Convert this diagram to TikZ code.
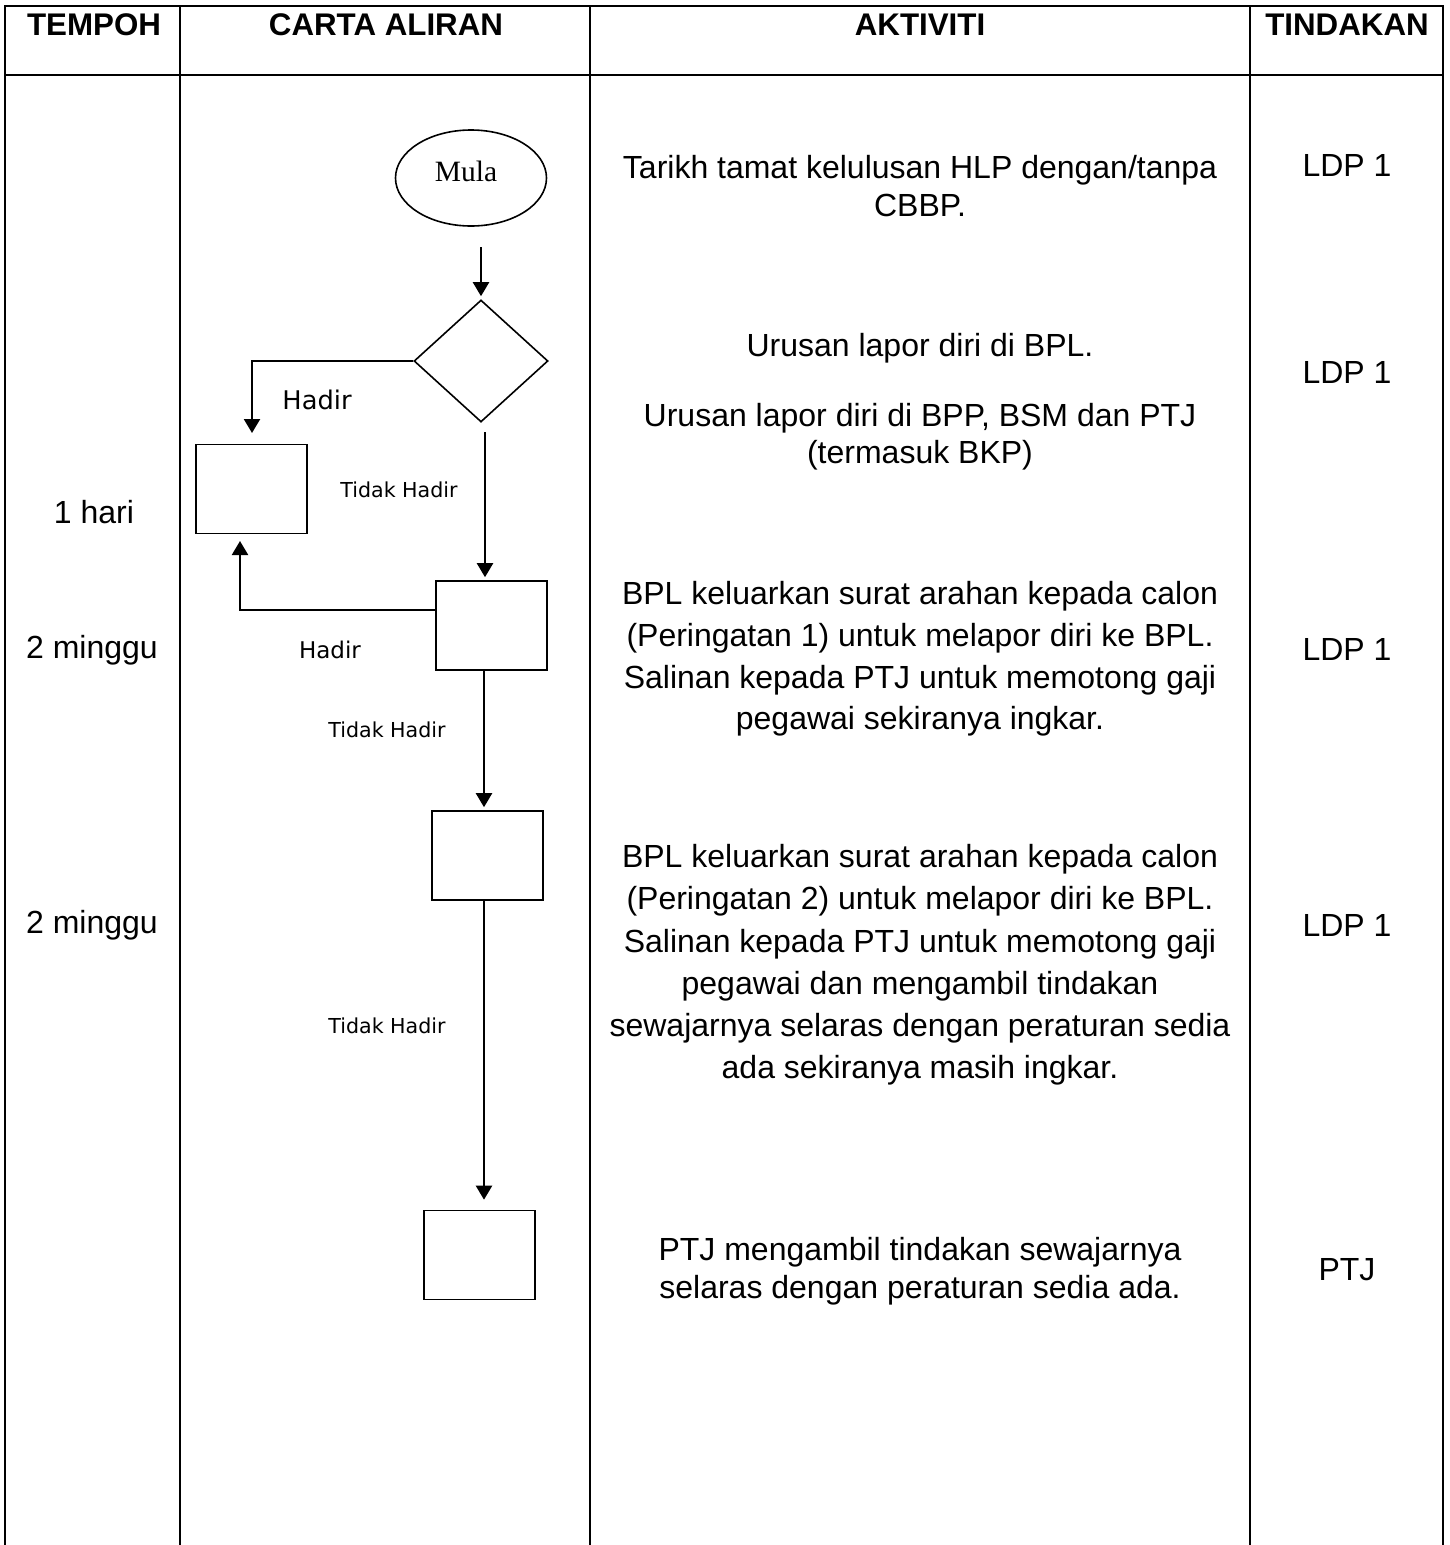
\documentclass[tikz,border=0pt]{standalone}
\usepackage{fontspec}
\setmainfont{Liberation Sans}
\newfontfamily\tahfont{DejaVu Sans}
\newfontfamily\serffont{Liberation Serif}
\usetikzlibrary{arrows.meta,shapes.geometric}
\begin{document}
\begin{tikzpicture}[x=1pt,y=-1pt,
  grid/.style={line width=2.4pt},
  arr/.style={line width=2.2pt,-{Triangle[width=16pt,length=14pt]}},
  boxn/.style={draw,line width=1.6pt,rectangle,minimum width=111pt,minimum height=89pt,inner sep=0pt},
  hdr/.style={font=\fontsize{31.3}{37}\selectfont\bfseries,anchor=center,inner sep=0pt},
  body/.style={font=\fontsize{32}{38}\selectfont,align=center,anchor=center,inner sep=0pt},
  lbl/.style={font=\tahfont\fontsize{20.6}{24}\selectfont,anchor=center,inner sep=0pt}]
\useasboundingbox (0,0) rectangle (1449,1545);
\fill[white] (0,0) rectangle (1449,1545);
% table
\draw[grid] (5,1545) -- (5,6) -- (1443,6) -- (1443,1545);
\draw[grid] (5,75) -- (1443,75);
\draw[grid] (180,6) -- (180,1545);
\draw[grid] (590,6) -- (590,1545);
\draw[grid] (1250,6) -- (1250,1545);
% headers
\node[hdr] (h1) at (94,25) {TEMPOH};
\node[hdr] (h2) at (386,25) {CARTA ALIRAN};
\node[hdr] (h3) at (920,25) {AKTIVITI};
\node[hdr] (h4) at (1347,25) {TINDAKAN};
% flowchart
\node[draw,ellipse,line width=1.6pt,minimum width=151pt,minimum height=96pt,inner sep=0pt] (mula) at (471,178) {};
\node[font=\serffont\fontsize{29.5}{34}\selectfont,inner sep=0pt] (mulat) at (466,171) {Mula};
\node[draw,diamond,line width=1.6pt,minimum width=134pt,minimum height=122pt,inner sep=0pt] (dia) at (481,361) {};
\node[boxn] (b1) at (251.5,489) {};
\node[boxn] (b2) at (491.5,625.5) {};
\node[boxn] (b3) at (487.5,855.5) {};
\node[boxn] (b4) at (479.5,1255) {};
\coordinate (s1) at (481,247);
\coordinate (s2) at (485,432);
\coordinate (s3) at (484,670);
\coordinate (s4) at (484,900);
\coordinate (s5) at (436,610);
\draw[arr,shorten >=3pt] (s1) -- (dia.north);
\draw[arr,shorten >=11pt] (dia.west) -| (252,444) coordinate (e1);
\draw[arr,shorten >=3pt] (s2) -- (s2 |- b2.north);
\draw[arr,shorten >=7pt] (s5) -| (240,534) coordinate (e2);
\draw[arr,shorten >=3pt] (s3) -- (s3 |- b3.north);
\draw[arr,shorten >=10pt] (s4) -- (s4 |- b4.north);
% flow labels
\node[lbl,font=\tahfont\fontsize{25.7}{30}\selectfont] (l1) at (317,400) {Hadir};
\node[lbl] (l2) at (399,490) {Tidak Hadir};
\node[lbl,font=\tahfont\fontsize{23}{28}\selectfont] (l3) at (330,650) {Hadir};
\node[lbl] (l4) at (387,730) {Tidak Hadir};
\node[lbl] (l5) at (387,1026) {Tidak Hadir};
% tempoh
\node[body] (t1) at (94,512) {1 hari};
\node[body] (t2) at (92,650) {2 minggu};
\node[body] (t3) at (92,925) {2 minggu};
% aktiviti
\node[body] (a1) at (920,186) {Tarikh tamat kelulusan HLP dengan/tanpa\\CBBP.};
\node[body] (a2) at (920,348) {Urusan lapor diri di BPL.};
\node[body,font=\fontsize{32}{37}\selectfont] (a3) at (920,437) {Urusan lapor diri di BPP, BSM dan PTJ\\(termasuk BKP)};
\node[body,font=\fontsize{32}{41.7}\selectfont] (a4) at (920,659) {BPL keluarkan surat arahan kepada calon\\(Peringatan 1) untuk melapor diri ke BPL.\\Salinan kepada PTJ untuk memotong gaji\\pegawai sekiranya ingkar.};
\node[body,font=\fontsize{32}{42.2}\selectfont] (a5) at (920,965) {BPL keluarkan surat arahan kepada calon\\(Peringatan 2) untuk melapor diri ke BPL.\\Salinan kepada PTJ untuk memotong gaji\\pegawai dan mengambil tindakan\\sewajarnya selaras dengan peraturan sedia\\ada sekiranya masih ingkar.};
\node[body] (a6) at (920,1271) {PTJ mengambil tindakan sewajarnya\\selaras dengan peraturan sedia ada.};
% tindakan
\node[body] (d1) at (1347,165) {LDP 1};
\node[body] (d2) at (1347,372) {LDP 1};
\node[body] (d3) at (1347,649) {LDP 1};
\node[body] (d4) at (1347,925) {LDP 1};
\node[body] (d5) at (1347,1270) {PTJ};
\end{tikzpicture}
\end{document}
